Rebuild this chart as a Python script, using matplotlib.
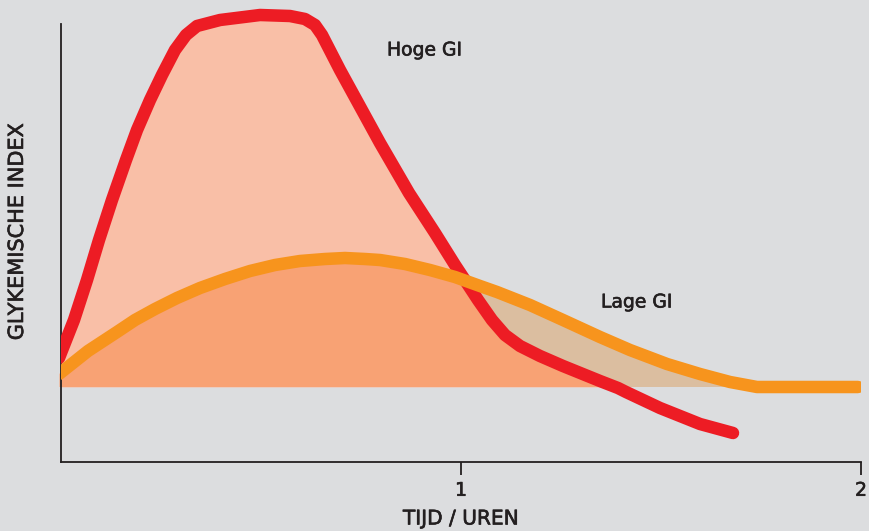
import matplotlib.pyplot as plt
import matplotlib.patheffects as pe
from matplotlib.patches import Polygon
import numpy as np

# glucose response, high GI food (time in hours, level above the baseline)
hoog_t = [-0.005, 0.0325, 0.065, 0.095, 0.1275, 0.1625, 0.19, 0.2225, 0.2525, 0.285,
          0.3125, 0.34, 0.3975, 0.4975, 0.5725, 0.61, 0.635, 0.6525, 0.6975, 0.7975,
          0.87, 0.935, 0.985, 1.0425, 1.0775, 1.11, 1.1475, 1.1975, 1.255, 1.3475,
          1.3925, 1.4125, 1.4975, 1.5975, 1.68]
hoog_y = [0.29, 0.67, 1.07, 1.47, 1.87, 2.27, 2.57, 2.87, 3.12, 3.37,
          3.52, 3.61, 3.67, 3.72, 3.71, 3.68, 3.62, 3.52, 3.17, 2.44,
          1.94, 1.54, 1.22, 0.87, 0.67, 0.52, 0.41, 0.31, 0.21, 0.06,
          -0.01, -0.05, -0.21, -0.37, -0.46]

# glucose response, low GI food
laag_t = [-0.005, 0.0675, 0.14, 0.185, 0.235, 0.29, 0.3475,
          0.41, 0.4725, 0.535, 0.5975, 0.66, 0.71, 0.76, 0.7975, 0.86, 0.9225,
          0.985, 1.0475, 1.09, 1.1725, 1.255, 1.3475, 1.4225, 1.515, 1.5975, 1.6725,
          1.74, 1.9925]
laag_y = [0.13, 0.36, 0.55, 0.67, 0.78, 0.89, 0.99,
          1.08, 1.16, 1.22, 1.26, 1.28, 1.29, 1.28, 1.27, 1.23, 1.17,
          1.10, 1.01, 0.95, 0.82, 0.67, 0.50, 0.37, 0.23, 0.13, 0.05,
          0.0, 0.0]

x_ticks = [1, 2]
x_labels = ["1", "2"]

BG = "#dcdddf"
INK = "#231f20"
ROOD = "#ed1c24"
ORANJE = "#f7941d"

plt.rcParams['font.family'] = ['DejaVu Sans']
FS = 13.5
# slightly heavier text strokes
dik = [pe.withStroke(linewidth=0.45, foreground=INK)]

fig = plt.figure(figsize=(8.69, 5.31), dpi=100, facecolor=BG)
ax = fig.add_axes([61 / 869, 69 / 531, 800 / 869, 457 / 531])
ax.set_facecolor(BG)
ax.set_xlim(0, 2)
ax.set_ylim(-0.75, 3.82)

ht = np.array(hoog_t)
hy = np.array(hoog_y)
lt = np.array(laag_t)
ly = np.array(laag_y)

# area under the high GI curve (only above the baseline)
ax.fill_between(ht, 0, np.maximum(hy, 0), color="#f9bfa7", lw=0, zorder=1)

# area under the low GI curve
laag_vlak = Polygon(np.column_stack([np.r_[lt[0], lt, lt[-1]], np.r_[0, ly, 0]]),
                    closed=True, facecolor="#dbbea0", edgecolor="none", zorder=1.1)
ax.add_patch(laag_vlak)

# overlap of both areas
overlap = ax.fill_between(ht, 0, np.maximum(hy, 0), color="#f8a274", lw=0, zorder=1.2)
overlap.set_clip_path(laag_vlak)

ax.plot(ht, hy, color=ROOD, lw=9, solid_capstyle="round", solid_joinstyle="round", zorder=3)
ax.plot(lt, ly, color=ORANJE, lw=9, solid_capstyle="round", solid_joinstyle="round", zorder=4)

ax.text(0.815, 3.37, "Hoge GI", ha="left", va="center", fontsize=FS, color=INK,
        path_effects=dik)
ax.text(1.35, 0.85, "Lage GI", ha="left", va="center", fontsize=FS, color=INK,
        path_effects=dik)

for s in ["top", "right"]:
    ax.spines[s].set_visible(False)
for s in ["left", "bottom"]:
    ax.spines[s].set_color(INK)
    ax.spines[s].set_linewidth(1.3)
ax.spines["left"].set_bounds(-0.75, 3.63)

ax.set_yticks([])
ax.set_xticks(x_ticks)
ax.set_xticklabels(x_labels, fontsize=FS, color=INK, path_effects=dik)
ax.tick_params(axis="x", direction="out", length=9.5, width=1.3, color=INK, pad=4)

ax.set_xlabel("TIJD / UREN", fontsize=14.5, color=INK, labelpad=7, path_effects=dik)
fig.text(17 / 869, 1 - 232 / 531, "GLYKEMISCHE INDEX", rotation=90, ha="center",
         va="center", fontsize=15, color=INK, path_effects=dik)

fig.savefig("out.png", dpi=100, facecolor=BG)
